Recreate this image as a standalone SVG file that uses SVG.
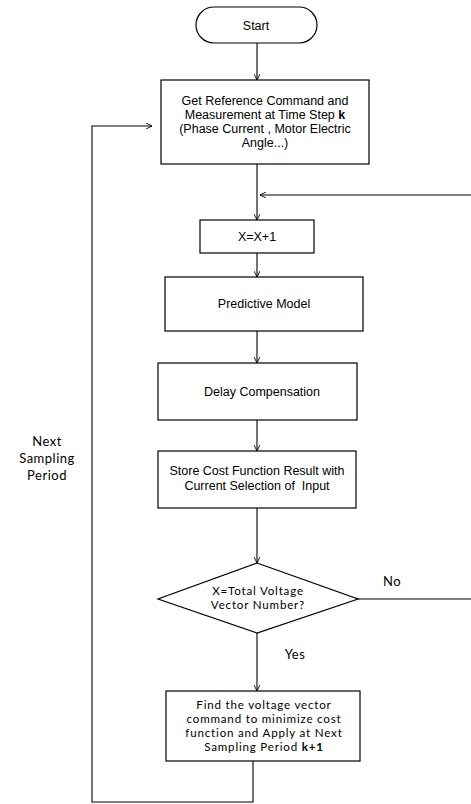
<svg xmlns="http://www.w3.org/2000/svg" width="471" height="804" viewBox="0 0 471 804">
<defs>
<marker id="arr" viewBox="0 0 10 10" refX="10" refY="5" markerWidth="6" markerHeight="6" markerUnits="userSpaceOnUse" orient="auto">
<path d="M0,0 L10,5 L0,10" fill="none" stroke="#000" stroke-width="1.5"/>
</marker>
<style>
.box{fill:#fff;stroke:#000;stroke-width:1.2}
.t{font-family:"Liberation Sans",Arial,sans-serif;font-size:12.5px;fill:#000;text-anchor:middle;white-space:pre}
.c{font-family:Lato,"Open Sans",sans-serif;font-size:11.6px;letter-spacing:0.8px;fill:#000;text-anchor:middle}
.l{font-family:Lato,"Open Sans",sans-serif;font-size:13px;letter-spacing:0.5px;fill:#000;text-anchor:middle}
.ln{fill:none;stroke:#000;stroke-width:1.1}
</style>
</defs>
<rect width="471" height="804" fill="#fff"/>
<g id="connectors">
<path class="ln" d="M257,43 V80" marker-end="url(#arr)"/>
<path class="ln" d="M257,164 V220" marker-end="url(#arr)"/>
<path class="ln" d="M471,195 H260" marker-end="url(#arr)"/>
<path class="ln" d="M257,253 V277" marker-end="url(#arr)"/>
<path class="ln" d="M257,331 V363" marker-end="url(#arr)"/>
<path class="ln" d="M257,420 V451" marker-end="url(#arr)"/>
<path class="ln" d="M257,508 V563" marker-end="url(#arr)"/>
<path class="ln" d="M257,633 V691" marker-end="url(#arr)"/>
<path class="ln" d="M358,599 H471"/>
<path class="ln" d="M253,761 V802 H92 V126 H152" marker-end="url(#arr)"/>
</g>
<g id="start">
<rect class="box" x="196" y="7" width="121" height="36" rx="18"/>
<text class="t" x="256" y="30">Start</text>
</g>
<g id="get-reference">
<rect class="box" x="161" y="80" width="208" height="84"/>
<text class="t" x="265" y="105">Get Reference Command and</text>
<text class="t" x="265" y="119">Measurement at Time Step <tspan font-weight="bold">k</tspan></text>
<text class="t" x="265" y="133">(Phase Current , Motor Electric</text>
<text class="t" x="265" y="147">Angle...)</text>
</g>
<g id="increment">
<rect class="box" x="200" y="220" width="114" height="33"/>
<text class="t" x="257" y="241">X=X+1</text>
</g>
<g id="predictive-model">
<rect class="box" x="165" y="277" width="198" height="54"/>
<text class="t" x="264" y="308">Predictive Model</text>
</g>
<g id="delay-compensation">
<rect class="box" x="158" y="363" width="199" height="57"/>
<text class="t" x="262" y="396">Delay Compensation</text>
</g>
<g id="store-cost">
<rect class="box" x="158" y="451" width="198" height="57"/>
<text class="t" x="257" y="475">Store Cost Function Result with</text>
<text class="t" x="257" y="490">Current Selection of  Input</text>
</g>
<g id="decision">
<polygon class="box" points="257,563 358,599 257,633 158,599"/>
<text class="c" x="258" y="595">X=Total Voltage</text>
<text class="c" x="258" y="609">Vector Number?</text>
</g>
<g id="find-vector">
<rect class="box" x="166" y="691" width="194" height="70"/>
<text class="c" x="264" y="709">Find the voltage vector</text>
<text class="c" x="264" y="723">command to minimize cost</text>
<text class="c" x="264" y="737">function and Apply at Next</text>
<text class="c" x="264" y="751">Sampling Period <tspan font-weight="bold">k+1</tspan></text>
</g>
<g id="labels">
<text class="l" x="392" y="586">No</text>
<text class="l" x="295" y="659">Yes</text>
<text class="l" x="47" y="446">Next</text>
<text class="l" x="47" y="463">Sampling</text>
<text class="l" x="47" y="480">Period</text>
</g>
</svg>
